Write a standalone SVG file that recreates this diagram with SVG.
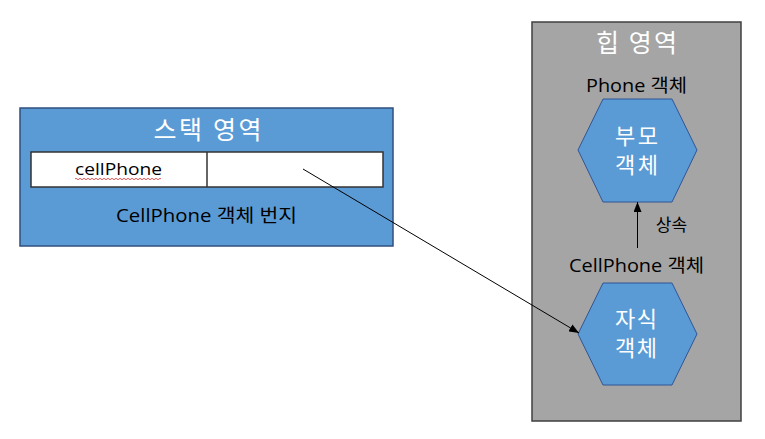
<svg xmlns="http://www.w3.org/2000/svg" width="765" height="439" viewBox="0 0 765 439">
<style>
text{font-family:"Noto Sans CJK KR","Noto Sans",sans-serif;text-anchor:middle}
.title{font-size:25px;fill:#fff}
.lbl{font-family:"Open Sans","Noto Sans CJK KR",sans-serif;font-size:18px;fill:#000}
.hex{fill:#5B9BD5;stroke:#2F5597;stroke-width:1}
.hext{font-size:22px;fill:#fff}
.conn{stroke:#000;stroke-width:1;fill:none}
</style>
<defs>
<marker id="ah" markerWidth="10" markerHeight="8" refX="10" refY="4" orient="auto" markerUnits="userSpaceOnUse">
<path d="M0,0 L10,4 L0,8 Z" fill="#000"/>
</marker>
</defs>
<rect width="765" height="439" fill="#fff"/>
<g id="heap">
<rect x="532" y="22" width="209" height="399" fill="#A5A5A5" stroke="#404040" stroke-width="1.5"/>
<text class="title" x="636.5" y="52" textLength="81" lengthAdjust="spacing">힙 영역</text>
</g>
<g id="stack">
<rect x="20" y="108" width="373" height="138" fill="#5B9BD5" stroke="#2F4F7F" stroke-width="1.5"/>
<text class="title" x="207.5" y="139" textLength="108" lengthAdjust="spacing">스택 영역</text>
<rect x="31" y="152" width="352" height="35" fill="#fff" stroke="#333" stroke-width="1.5"/>
<line x1="207" y1="152" x2="207" y2="187" stroke="#333" stroke-width="1.5"/>
<text class="lbl" x="118.5" y="175" textLength="87" lengthAdjust="spacingAndGlyphs" style="font-size:17px">cellPhone</text>
<path d="M75,179 q1,-1.5 2,0 t2,0 t2,0 t2,0 t2,0 t2,0 t2,0 t2,0 t2,0 t2,0 t2,0 t2,0 t2,0 t2,0 t2,0 t2,0 t2,0 t2,0 t2,0 t2,0 t2,0 t2,0 t2,0 t2,0 t2,0 t2,0 t2,0 t2,0 t2,0 t2,0 t2,0 t2,0 t2,0 t2,0 t2,0 t2,0 t2,0 t2,0 t2,0 t2,0 t2,0 t2,0 t2,0" fill="none" stroke="#E03030" stroke-width="0.8"/>
<text class="lbl" x="206.5" y="222" textLength="181" lengthAdjust="spacingAndGlyphs">CellPhone 객체 번지</text>
</g>
<g id="parent">
<text class="lbl" x="636.5" y="92" textLength="101" lengthAdjust="spacingAndGlyphs">Phone 객체</text>
<polygon class="hex" points="603,99 672,99 697,150 672,202 603,202 578,150"/>
<text class="hext" x="636.5" y="144" textLength="43" lengthAdjust="spacing">부모</text>
<text class="hext" x="636.5" y="173" textLength="43" lengthAdjust="spacing">객체</text>
</g>
<g id="child">
<text class="lbl" x="636.5" y="272" textLength="135" lengthAdjust="spacingAndGlyphs">CellPhone 객체</text>
<polygon class="hex" points="603,283 672,283 697,334 672,385 603,385 578,334"/>
<text class="hext" x="636" y="327" textLength="42" lengthAdjust="spacing">자식</text>
<text class="hext" x="636" y="356" textLength="42" lengthAdjust="spacing">객체</text>
</g>
<g id="connectors">
<line class="conn" x1="637.5" y1="248" x2="637.5" y2="202" marker-end="url(#ah)"/>
<text x="671.5" y="231" style="font-size:17px;fill:#000">상속</text>
<line class="conn" x1="303" y1="169" x2="579" y2="333" marker-end="url(#ah)"/>
</g>
</svg>
